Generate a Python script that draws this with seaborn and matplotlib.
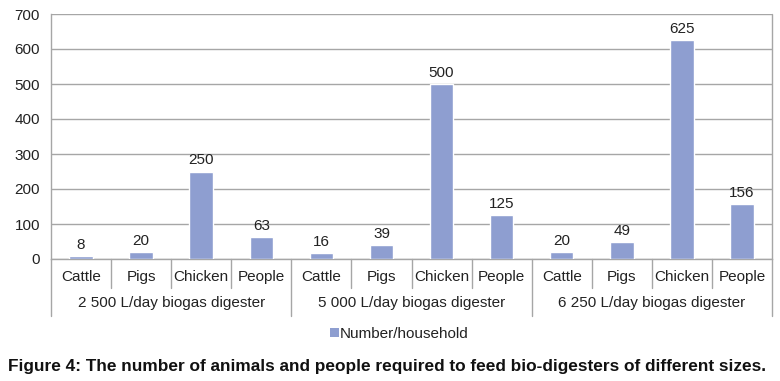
import matplotlib
matplotlib.use("Agg")
import matplotlib.pyplot as plt
import matplotlib.transforms as mtransforms
from matplotlib.patches import Patch
import seaborn as sns
import pandas as pd

groups = ["2 500 L/day biogas digester", "5 000 L/day biogas digester", "6 250 L/day biogas digester"]
animals = ["Cattle", "Pigs", "Chicken", "People"]
values_2500 = [8, 20, 250, 63]
values_5000 = [16, 39, 500, 125]
values_6250 = [20, 49, 625, 156]
series_name = "Number/household"
caption = "Figure 4: The number of animals and people required to feed bio-digesters of different sizes."

rows = []
for g, vals in zip(groups, [values_2500, values_5000, values_6250]):
    for a, v in zip(animals, vals):
        rows.append({"key": f"{g}|{a}", "group": g, "animal": a, "value": v})
df = pd.DataFrame(rows)

sns.set_theme(style="white")
plt.rcParams["font.family"] = ["Liberation Sans", "DejaVu Sans"]

bar_color = "#8E9ED0"
grid_color = "#A6A6A6"
text_color = "#222222"

fig = plt.figure(figsize=(7.8, 3.81), dpi=100)
ax = fig.add_axes([51 / 780, 1 - 259 / 381, (772 - 51) / 780, (259 - 14) / 381])

sns.barplot(data=df, x="key", y="value", order=list(df["key"]), color=bar_color,
            width=0.39, saturation=1, ax=ax, zorder=3)

ax.set_ylim(0, 700)
ax.set_xlim(-0.5, len(df) - 0.5)
ax.set_yticks(range(0, 701, 100))
ax.yaxis.grid(True, color=grid_color, linewidth=1)
ax.set_axisbelow(True)
ax.set_xlabel("")
ax.set_ylabel("")
for s in ["top", "right"]:
    ax.spines[s].set_visible(False)
ax.spines["left"].set_color(grid_color)
ax.spines["bottom"].set_color(grid_color)
ax.spines["left"].set_linewidth(1)
ax.spines["bottom"].set_linewidth(1)
ax.tick_params(axis="y", length=0, labelsize=11, colors=text_color, pad=8)
ax.tick_params(axis="x", length=0, labelsize=11, colors=text_color, pad=8)
ax.set_xticks(range(len(df)))
ax.set_xticklabels(df["animal"])

# right border line
ax.plot([1, 1], [0, 1], transform=ax.transAxes, color=grid_color, lw=1, clip_on=False, zorder=1)

# value labels
for i, v in enumerate(df["value"]):
    ax.text(i, v + 12, str(v), ha="center", va="bottom", fontsize=11, color=text_color)

# multi-level category separators
trans = mtransforms.blended_transform_factory(ax.transData, fig.transFigure)
y0 = 1 - 259 / 381
y_inner = 1 - 288 / 381
y_outer = 1 - 316 / 381
n = len(df)
for k in range(n + 1):
    x = k - 0.5
    if k % 4 == 0:
        ax.plot([x, x], [y0, y_outer], transform=trans, color=grid_color, lw=1, clip_on=False)
    else:
        ax.plot([x, x], [y0, y_inner], transform=trans, color=grid_color, lw=1, clip_on=False)

for gi, g in enumerate(groups):
    xc = gi * 4 + 1.5
    fig.text(xc, 1 - 303 / 381, g, ha="center", va="center", fontsize=11, color=text_color,
             transform=trans)

# legend
handles = [Patch(facecolor=bar_color, edgecolor="none")]
fig.legend(handles, [series_name], loc="center", bbox_to_anchor=(0.512, 1 - 334 / 381),
           frameon=False, fontsize=11, handlelength=0.6, handleheight=0.6, handletextpad=0.05,
           labelcolor=text_color)

fig.text(8 / 780, 1 - 366 / 381, caption, ha="left", va="center", fontsize=12.4,
         fontweight="bold", color="#111111")

fig.savefig("out.png", dpi=100, facecolor="white")
